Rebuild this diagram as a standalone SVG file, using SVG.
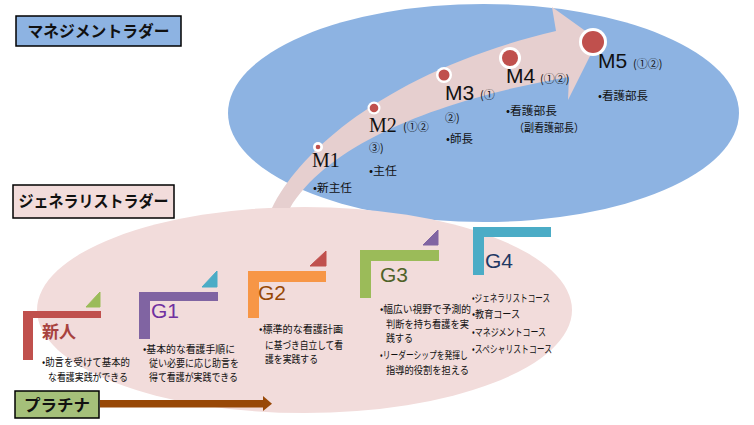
<svg xmlns="http://www.w3.org/2000/svg" width="754" height="425" viewBox="0 0 754 425">
<style>
.jp{font-family:"Noto Sans CJK JP","Liberation Sans",sans-serif;fill:#111}
.b{font-size:10.5px}
.m{font-size:11px}
.ttl{font-family:"Noto Sans CJK JP","Liberation Sans",sans-serif;font-weight:bold;font-size:16px;fill:#111}
.g{font-family:"Liberation Sans",Arial,sans-serif;font-size:21px}
.ms{font-family:"Liberation Serif","Times New Roman",serif;font-size:20px;fill:#111}
.mn{font-family:"Liberation Sans",Arial,sans-serif;font-size:21px;fill:#111}
.dw{fill:#fff}
.dr{fill:#C0504D}
.box{stroke:#000;stroke-width:1.5}
</style>
<rect width="754" height="425" fill="#fff"/>
<g id="backgrounds">
<ellipse cx="483.5" cy="113" rx="255.5" ry="109" fill="#8DB3E2"/>
<ellipse cx="304.5" cy="310" rx="267.5" ry="103" fill="#F2DCDB"/>
</g>
<g id="connectors">
<path id="growth-arrow" d="M272,208 C300,150 390,70 556,31 L552,7 L598,40 L568,100 L569,77 C450,97 330,140 290,208 Z" fill="#E6CFCF"/>
<g id="platinum-arrow">
<rect x="100" y="400" width="164" height="7.5" fill="#984807"/>
<polygon points="263,396 272,403.7 263,411" fill="#984807"/>
</g>
</g>
<g id="title-management">
<rect class="box" x="16" y="16" width="165" height="30" fill="#8DB3E2"/>
<text class="ttl" x="98.5" y="37" text-anchor="middle" textLength="142" lengthAdjust="spacingAndGlyphs">マネジメントラダー</text>
</g>
<g id="title-generalist">
<rect class="box" x="13" y="185" width="161" height="33" fill="#F2DCDB"/>
<text class="ttl" x="93.5" y="207" text-anchor="middle" font-size="17" textLength="150" lengthAdjust="spacingAndGlyphs">ジェネラリストラダー</text>
</g>
<g id="title-platinum">
<rect class="box" x="15" y="391" width="84" height="27" fill="#A5C07A"/>
<text class="ttl" x="57" y="411" text-anchor="middle" textLength="66" lengthAdjust="spacingAndGlyphs">プラチナ</text>
</g>
<g id="M1">
<circle class="dw" cx="318" cy="147" r="5"/><circle class="dr" cx="318" cy="147" r="2.3"/>
<text class="ms" x="312" y="167">M1</text>
<text class="jp m" x="313" y="192" textLength="39" lengthAdjust="spacingAndGlyphs">•新主任</text>
</g>
<g id="M2">
<circle class="dw" cx="374" cy="108" r="6.5"/><circle class="dr" cx="374" cy="108" r="4.3"/>
<text class="ms" x="369" y="132">M2</text>
<text class="jp m" x="403" y="131">(①②</text>
<text class="jp m" x="369" y="152">③)</text>
<text class="jp m" x="369" y="175" textLength="28" lengthAdjust="spacingAndGlyphs">•主任</text>
</g>
<g id="M3">
<circle class="dw" cx="444" cy="75" r="8"/><circle class="dr" cx="444" cy="75" r="5.5"/>
<text class="mn" x="445" y="100">M3</text>
<text class="jp m" x="480" y="99">(①</text>
<text class="jp m" x="445" y="122">②)</text>
<text class="jp m" x="446" y="143" textLength="27" lengthAdjust="spacingAndGlyphs">•師長</text>
</g>
<g id="M4">
<circle class="dw" cx="510" cy="58" r="11"/><circle class="dr" cx="510" cy="58" r="8"/>
<text class="mn" x="506" y="83">M4</text>
<text class="jp m" x="540" y="83">(①②)</text>
<text class="jp m" x="506" y="115" textLength="51" lengthAdjust="spacingAndGlyphs">•看護部長</text>
<text class="jp m" x="514" y="132" textLength="70" lengthAdjust="spacingAndGlyphs">（副看護部長）</text>
</g>
<g id="M5">
<circle class="dw" cx="593" cy="42" r="14"/><circle class="dr" cx="593" cy="42" r="11"/>
<text class="mn" x="598" y="68">M5</text>
<text class="jp m" x="633" y="68">(①②)</text>
<text class="jp m" x="598" y="100" textLength="50" lengthAdjust="spacingAndGlyphs">•看護部長</text>
</g>
<g id="shinjin">
<path d="M23,311 H101 V318 H33 V360 H23 Z" fill="#C0504D"/>
<polygon points="86,307 100,292 100,307" fill="#9BBB59" stroke="#9BBB59" stroke-width="1" stroke-linejoin="round"/>
<text x="42" y="338" font-family="Noto Sans CJK JP,sans-serif" font-size="17" font-weight="bold" fill="#A8423E">新人</text>
<text class="jp b" x="42" y="366" textLength="88" lengthAdjust="spacingAndGlyphs">•助言を受けて基本的</text>
<text class="jp b" x="48" y="381" textLength="80" lengthAdjust="spacingAndGlyphs">な看護実践ができる</text>
</g>
<g id="G1">
<path d="M139,292 H218 V301 H150 V339 H139 Z" fill="#8064A2"/>
<polygon points="202,287 217,271 217,287" fill="#4BACC6" stroke="#4BACC6" stroke-width="1" stroke-linejoin="round"/>
<text class="g" x="151" y="318" fill="#7030A0">G1</text>
<text class="jp b" x="143" y="353" textLength="92" lengthAdjust="spacingAndGlyphs">•基本的な看護手順に</text>
<text class="jp b" x="149" y="367" textLength="90" lengthAdjust="spacingAndGlyphs">従い必要に応じ助言を</text>
<text class="jp b" x="149" y="381" textLength="89" lengthAdjust="spacingAndGlyphs">得て看護が実践できる</text>
</g>
<g id="G2">
<path d="M248,271 H326 V282 H259 V318 H248 Z" fill="#F79646"/>
<polygon points="310,266 326,251 326,266" fill="#C0504D" stroke="#C0504D" stroke-width="1" stroke-linejoin="round"/>
<text class="g" x="258" y="300" fill="#974806">G2</text>
<text class="jp b" x="259" y="333" textLength="84" lengthAdjust="spacingAndGlyphs">•標準的な看護計画</text>
<text class="jp b" x="265" y="349" textLength="78" lengthAdjust="spacingAndGlyphs">に基づき自立して看</text>
<text class="jp b" x="265" y="363" textLength="53" lengthAdjust="spacingAndGlyphs">護を実践する</text>
</g>
<g id="G3">
<path d="M360,250 H439 V261 H371 V298 H360 Z" fill="#9BBB59"/>
<polygon points="423,245 438,230 438,245" fill="#8064A2" stroke="#8064A2" stroke-width="1" stroke-linejoin="round"/>
<text class="g" x="380" y="282" fill="#4F6228">G3</text>
<text class="jp b" x="380" y="313" textLength="91" lengthAdjust="spacingAndGlyphs">•幅広い視野で予測的</text>
<text class="jp b" x="386" y="328" textLength="83" lengthAdjust="spacingAndGlyphs">判断を持ち看護を実</text>
<text class="jp b" x="386" y="342" textLength="27" lengthAdjust="spacingAndGlyphs">践する</text>
<text class="jp b" transform="translate(380 359) scale(0.74 1)" x="0" y="0">•リーダーシップを発揮し</text>
<text class="jp b" x="386" y="374" textLength="83" lengthAdjust="spacingAndGlyphs">指導的役割を担える</text>
</g>
<g id="G4">
<path d="M473,227 H551 V237 H484 V275 H473 Z" fill="#4BACC6"/>
<text class="g" x="485" y="268" font-size="23" fill="#1F3864">G4</text>
<text class="jp b" x="472" y="302" textLength="78" lengthAdjust="spacingAndGlyphs">•ジェネラリストコース</text>
<text class="jp b" x="472" y="318" textLength="48" lengthAdjust="spacingAndGlyphs">•教育コース</text>
<text class="jp b" x="472" y="336" textLength="74" lengthAdjust="spacingAndGlyphs">•マネジメントコース</text>
<text class="jp b" x="472" y="353" textLength="80" lengthAdjust="spacingAndGlyphs">•スペシャリストコース</text>
</g>
</svg>
